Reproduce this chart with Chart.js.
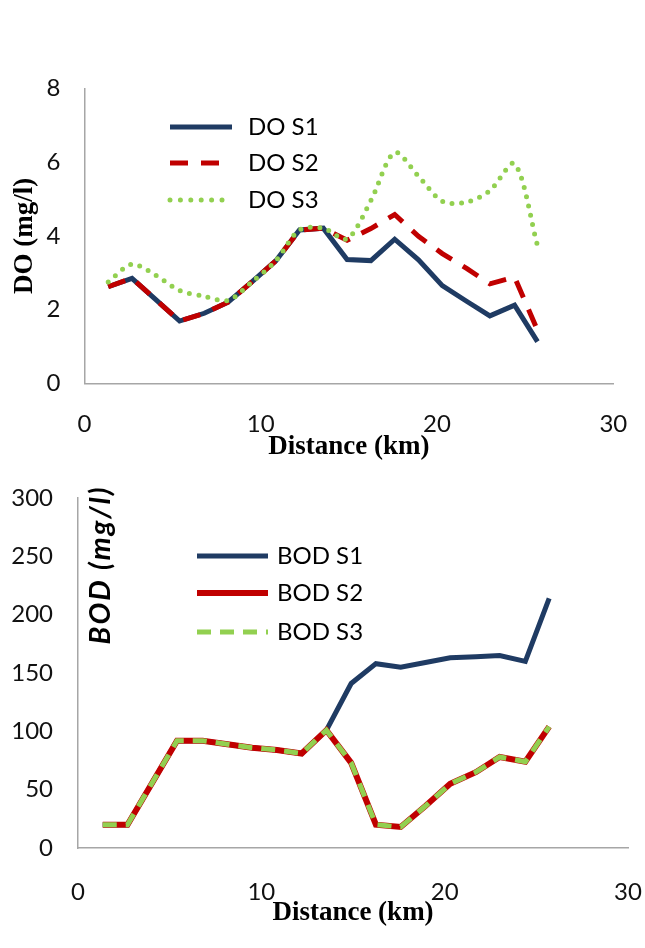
<!DOCTYPE html>
<html>
<head>
<meta charset="utf-8">
<script src="https://cdn.jsdelivr.net/npm/chart.js@4.4.1/dist/chart.umd.min.js"></script>
<style>
  html, body { margin: 0; padding: 0; background: #fff; }
  .panel { width: 645px; height: 474px; }
  canvas { display: block; }
</style>
</head>
<body>
<div class="panel"><canvas id="doChart" width="645" height="474"></canvas></div>
<div class="panel"><canvas id="bodChart" width="645" height="474"></canvas></div>
<script>
// Sampling stations along the river (km)
const distanceKm = [1.35, 2.7, 4.05, 5.4, 6.8, 8.15, 9.5, 10.85, 12.2, 13.55, 14.9, 16.25, 17.6, 18.95, 20.3, 21.7, 23.0, 24.4, 25.7]

// Dissolved oxygen (mg/l) per scenario
const doS1 = [2.62, 2.85, 2.27, 1.69, 1.9, 2.2, 2.75, 3.32, 4.16, 4.21, 3.36, 3.33, 3.91, 3.35, 2.65, 2.22, 1.83, 2.12, 1.13]
const doS2 = [2.62, 2.85, 2.27, 1.69, 1.9, 2.2, 2.75, 3.32, 4.16, 4.21, 3.88, 4.2, 4.58, 3.99, 3.52, 3.11, 2.7, 2.88, 1.44]
const doS3 = [2.75, 3.23, 2.93, 2.52, 2.36, 2.25, 2.75, 3.32, 4.16, 4.21, 3.92, 4.96, 6.26, 5.62, 4.94, 4.92, 5.23, 5.96, 3.74]

// Biochemical oxygen demand (mg/l) per scenario
const bodS1 = [20, 20, 56, 92, 92, 89, 86, 84, 81, 101, 141, 158, 155, 159, 163, 164, 165, 160, 214]
const bodS2 = [20, 20, 56, 92, 92, 89, 86, 84, 81, 101, 73, 20, 18, 36, 55, 65, 78, 74, 104]
const bodS3 = [20, 20, 56, 92, 92, 89, 86, 84, 81, 101, 73, 20, 18, 36, 55, 65, 78, 74, 104]

const xTicks = [0, 10, 20, 30]
const doTicks = [0, 2, 4, 6, 8]
const bodTicks = [0, 50, 100, 150, 200, 250, 300]

const NAVY = "#1f3b63"
const RED = "#c00000"
const GREEN = "#92d050"
const AXIS_GRAY = "#a6a6a6"
const TICK_FONT = { family: "Lato", size: 24 }
const SERIF_TITLE = { family: "Liberation Serif", size: 27, weight: "bold", lineHeight: 1 }

const toPoints = (ys) => ys.map((y, i) => ({ x: distanceKm[i], y }))

// Legend drawn inside the plot, like the spreadsheet did it
const insideLegend = (box) => ({
  id: "insideLegend",
  afterDraw(chart) {
    const ctx = chart.ctx
    chart.data.datasets.forEach((ds, i) => {
      const y = box.rows[i]
      ctx.save()
      ctx.strokeStyle = ds.borderColor
      ctx.lineWidth = ds.borderWidth
      ctx.lineCap = ds.borderCapStyle || "butt"
      ctx.setLineDash(ds.legendDash || ds.borderDash || [])
      ctx.beginPath()
      ctx.moveTo(box.x0, y)
      ctx.lineTo(box.x1, y)
      ctx.stroke()
      ctx.setLineDash([])
      ctx.fillStyle = "#000"
      ctx.font = box.font
      ctx.textBaseline = "middle"
      ctx.fillText(ds.label, box.textX, y)
      ctx.restore()
    })
  },
})

// BOD axis title sits inside the plot area, right of the axis line
const bodTitle = {
  id: "bodTitle",
  afterDraw(chart) {
    const { ctx, chartArea } = chart
    ctx.save()
    ctx.translate(chartArea.left + 23, chartArea.top + 67)
    ctx.rotate(-Math.PI / 2)
    ctx.font = "italic bold 29px Lato"
    ctx.letterSpacing = "2px"
    ctx.textAlign = "center"
    ctx.textBaseline = "middle"
    ctx.fillStyle = "#000"
    ctx.fillText("BOD (mg/l)", 0, 0)
    ctx.restore()
  },
}

// keep the plot box where the layout padding puts it (no extra room for edge labels)
const noEdgePadding = (s) => {
  s.paddingLeft = 0
  s.paddingRight = 0
  s.paddingTop = 0
  s.paddingBottom = 0
}

const xScale = (tickPad, height, titlePad) => ({
  type: "linear",
  min: 0,
  max: 30,
  grid: { display: false, drawTicks: false },
  border: { color: AXIS_GRAY, width: 1.5 },
  afterBuildTicks: (s) => { s.ticks = xTicks.map((v) => ({ value: v })) },
  ticks: { padding: tickPad, color: "#111", font: TICK_FONT, maxRotation: 0 },
  title: { display: true, text: "Distance (km)", color: "#000", font: SERIF_TITLE, padding: { top: 0, bottom: titlePad } },
  afterFit: (s) => {
    s.height = height
    noEdgePadding(s)
  },
})

const yScale = (max, ticks, tickPad, width) => ({
  min: 0,
  max: max,
  grid: { display: false, drawTicks: false },
  border: { color: AXIS_GRAY, width: 1.5 },
  afterBuildTicks: (s) => { s.ticks = ticks.map((v) => ({ value: v })) },
  ticks: { padding: tickPad, color: "#111", font: TICK_FONT },
  afterFit: (s) => {
    s.width = width
    noEdgePadding(s)
  },
})

const baseOptions = {
  responsive: false,
  animation: false,
  events: [],
  plugins: { legend: { display: false }, tooltip: { enabled: false } },
  elements: { point: { radius: 0 } },
}

// Top panel: DO
const doY = yScale(8, doTicks, 24, 84.4)
doY.title = { display: true, text: "DO (mg/l)", color: "#000", font: SERIF_TITLE, padding: { top: 11.5, bottom: 0 } }

new Chart(document.getElementById("doChart"), {
  type: "line",
  data: {
    datasets: [
      { label: "DO S1", data: toPoints(doS1), borderColor: NAVY, borderWidth: 5, order: 2, tension: 0 },
      { label: "DO S2", data: toPoints(doS2), borderColor: RED, borderWidth: 5, borderDash: [18, 13], order: 1, tension: 0 },
      { label: "DO S3", data: toPoints(doS3), borderColor: GREEN, borderWidth: 5, borderDash: [0, 9.5], borderCapStyle: "round", legendDash: [0, 10.4], order: 0, tension: 0.3 },
    ],
  },
  options: {
    ...baseOptions,
    layout: { padding: { left: 0, right: 31.7, top: 88.5, bottom: 0 } },
    scales: { x: xScale(27, 90.7, 13), y: doY },
  },
  plugins: [insideLegend({ x0: 170, x1: 232, textX: 248, rows: [127, 163, 200], font: "24px Lato" })],
})

// Bottom panel: BOD
new Chart(document.getElementById("bodChart"), {
  type: "line",
  data: {
    datasets: [
      { label: "BOD S1", data: toPoints(bodS1), borderColor: NAVY, borderWidth: 5, order: 2, tension: 0 },
      { label: "BOD S2", data: toPoints(bodS2), borderColor: RED, borderWidth: 6, order: 1, tension: 0 },
      { label: "BOD S3", data: toPoints(bodS3), borderColor: GREEN, borderWidth: 5, borderDash: [14, 9], order: 0, tension: 0 },
    ],
  },
  options: {
    ...baseOptions,
    layout: { padding: { left: 0, right: 17, top: 24, bottom: 0 } },
    scales: { x: xScale(30, 100, 21), y: yScale(300, bodTicks, 25, 78) },
  },
  plugins: [insideLegend({ x0: 197, x1: 268, textX: 277, rows: [82, 119, 158], font: "24px Lato" }), bodTitle],
})
</script>
</body>
</html>
